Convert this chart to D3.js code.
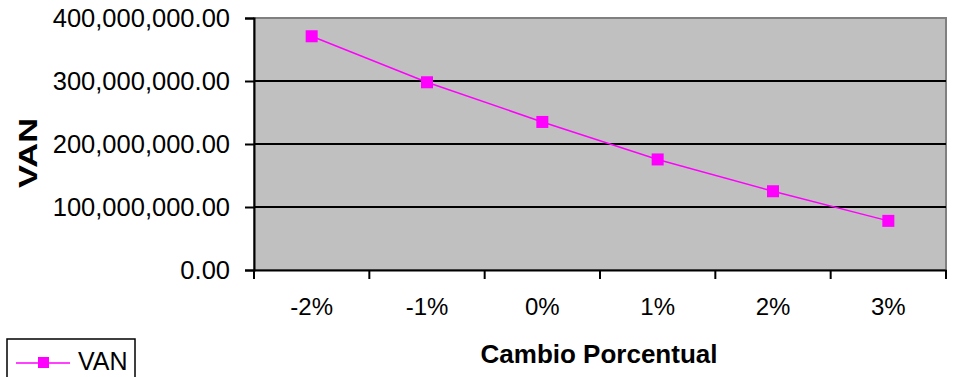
<!DOCTYPE html>
<html>
<head>
<meta charset="utf-8">
<script src="https://cdn.jsdelivr.net/npm/d3@7"></script>
<style>
  body { margin: 0; background: #fff; }
  text { font-family: "Liberation Sans", Arial, sans-serif; }
</style>
</head>
<body>
<div id="chart"></div>
<script>
// datos
const categorias = ["-2%", "-1%", "0%", "1%", "2%", "3%"];
const van = [371000000, 298000000, 235000000, 175500000, 125000000, 78000000];
const yTicks = [0, 100000000, 200000000, 300000000, 400000000];

const svg = d3.select("#chart").append("svg")
    .attr("width", 953)
    .attr("height", 377);

const margin = { top: 18, right: 7, bottom: 107, left: 254 };
const width = 953 - margin.left - margin.right;
const height = 377 - margin.top - margin.bottom;

const chart = svg.append("g")
    .attr("transform", `translate(${margin.left},${margin.top})`);

const x = d3.scaleBand().domain(categorias).range([0, width]);
const y = d3.scaleLinear().domain([0, 400000000]).range([height, 0]);

// fondo gris del área de trazado
chart.append("rect")
    .attr("width", width)
    .attr("height", height)
    .attr("fill", "#c0c0c0")
    .attr("stroke", "#808080")
    .attr("stroke-width", 2);

// líneas de cuadrícula
chart.selectAll("line.grid")
    .data(yTicks.filter(d => d > 0 && d < 400000000))
    .enter()
    .append("line")
    .attr("class", "grid")
    .attr("x1", 0)
    .attr("x2", width)
    .attr("y1", d => y(d))
    .attr("y2", d => y(d))
    .attr("stroke", "#000")
    .attr("stroke-width", 2);

// eje Y
const yAxis = chart.append("g")
    .call(d3.axisLeft(y).tickValues(yTicks).tickSize(9).tickPadding(15)
        .tickFormat(d3.format(",.2f")));
yAxis.select(".domain").attr("stroke", "#000").attr("stroke-width", 2);
yAxis.selectAll(".tick line").attr("stroke", "#000").attr("stroke-width", 2);
yAxis.selectAll("text").style("font-size", "25.5px").attr("fill", "#000");

// eje X (marcas en los límites de cada categoría)
const xAxis = chart.append("g")
    .attr("transform", `translate(0,${height})`)
    .call(d3.axisBottom(x).tickSize(0).tickPadding(28));
xAxis.select(".domain").attr("stroke", "#000").attr("stroke-width", 2);
xAxis.selectAll("text").style("font-size", "24px").attr("fill", "#000");

const bordes = categorias.map(c => x(c)).concat([width]);
xAxis.selectAll("line.limite")
    .data(bordes)
    .enter()
    .append("line")
    .attr("class", "limite")
    .attr("x1", d => d)
    .attr("x2", d => d)
    .attr("y1", 0)
    .attr("y2", 9)
    .attr("stroke", "#000")
    .attr("stroke-width", 2);

// línea de la serie
const line = d3.line()
    .x((d, i) => x(categorias[i]) + x.bandwidth() / 2)
    .y(d => y(d));

chart.append("path")
    .datum(van)
    .attr("fill", "none")
    .attr("stroke", "#ff00ff")
    .attr("stroke-width", 1.5)
    .attr("d", line);

chart.selectAll("rect.punto")
    .data(van)
    .enter()
    .append("rect")
    .attr("class", "punto")
    .attr("x", (d, i) => x(categorias[i]) + x.bandwidth() / 2 - 6)
    .attr("y", d => y(d) - 6)
    .attr("width", 12)
    .attr("height", 12)
    .attr("fill", "#ff00ff");

// título eje X
svg.append("text")
    .attr("x", 599)
    .attr("y", 363)
    .attr("text-anchor", "middle")
    .style("font-size", "26px")
    .style("font-weight", "bold")
    .text("Cambio Porcentual");

// título eje Y
svg.append("text")
    .attr("transform", "rotate(-90)")
    .attr("x", -188)
    .attr("y", 37)
    .attr("textLength", 70)
    .attr("lengthAdjust", "spacingAndGlyphs")
    .style("font-size", "25px")
    .style("font-weight", "bold")
    .text("VAN");

// leyenda
const leyenda = svg.append("g");
leyenda.append("rect")
    .attr("x", 7)
    .attr("y", 339)
    .attr("width", 128)
    .attr("height", 44)
    .attr("fill", "#fff")
    .attr("stroke", "#000")
    .attr("stroke-width", 1.5);
leyenda.append("line")
    .attr("x1", 16)
    .attr("x2", 70)
    .attr("y1", 363)
    .attr("y2", 363)
    .attr("stroke", "#ff00ff")
    .attr("stroke-width", 1.5);
leyenda.append("rect")
    .attr("x", 38)
    .attr("y", 357)
    .attr("width", 11)
    .attr("height", 11)
    .attr("fill", "#ff00ff");
leyenda.append("text")
    .attr("x", 78)
    .attr("y", 370)
    .style("font-size", "25px")
    .text("VAN");
</script>
</body>
</html>
